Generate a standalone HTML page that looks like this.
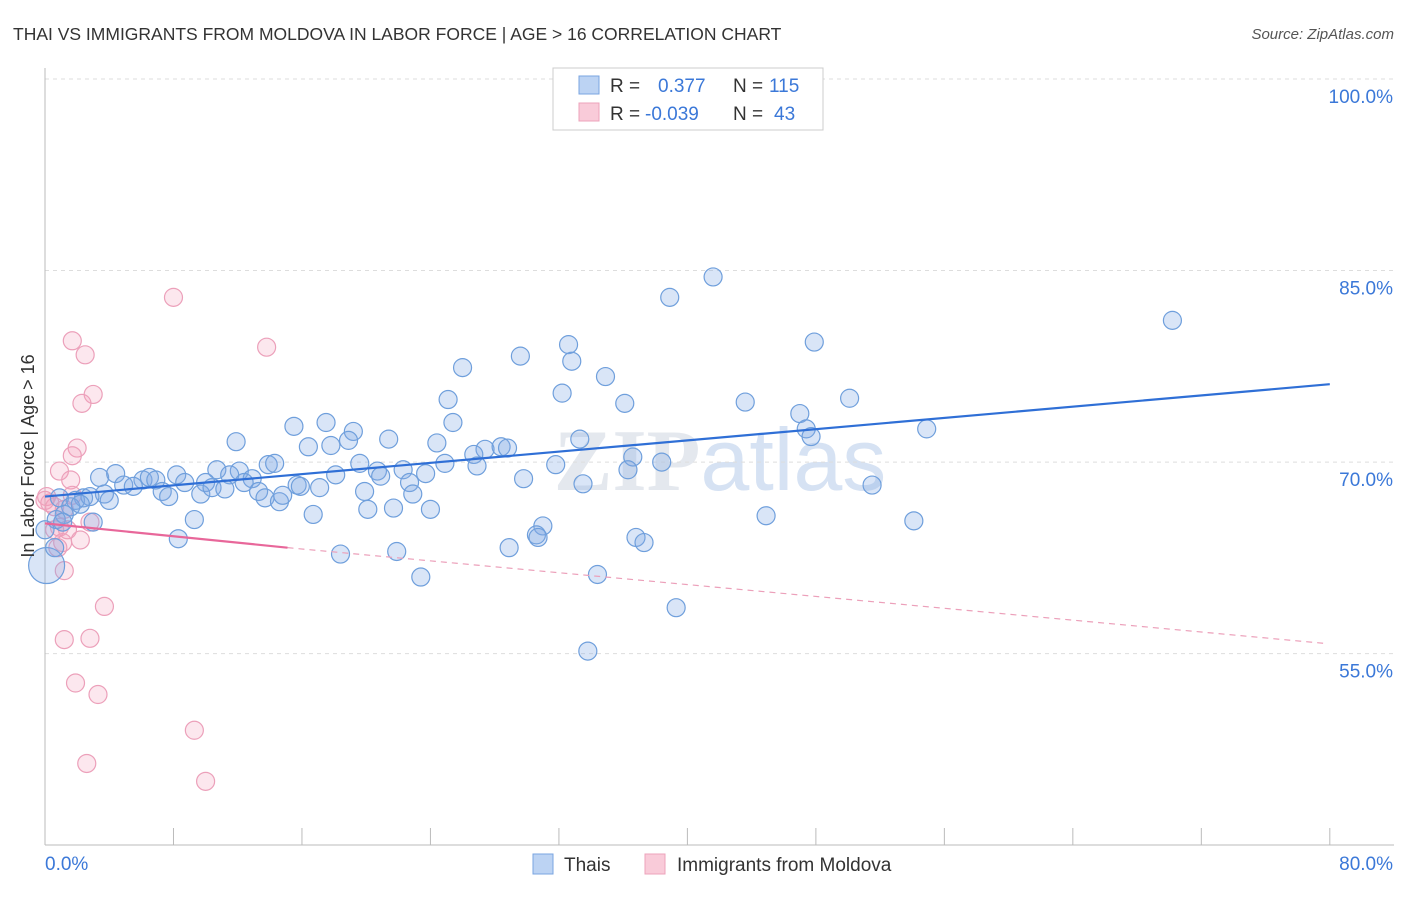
<!DOCTYPE html>
<html><head><meta charset="utf-8"><style>
body{margin:0;background:#fff;font-family:"Liberation Sans",sans-serif;}
</style></head><body>
<svg id="chart" width="1406" height="892" viewBox="0 0 1406 892" xmlns="http://www.w3.org/2000/svg" font-family="Liberation Sans, sans-serif">
<text x="13" y="40" font-size="17.5" fill="#333">THAI VS IMMIGRANTS FROM MOLDOVA IN LABOR FORCE | AGE &gt; 16 CORRELATION CHART</text>
<text x="1394" y="39" font-size="15" fill="#555" text-anchor="end" font-style="italic">Source: ZipAtlas.com</text>
<text x="720" y="490" font-size="88" fill="#e4e8ee" text-anchor="middle" font-family="Liberation Serif, serif" font-weight="bold">ZIP<tspan fill="#d6e2f3" font-family="Liberation Sans, sans-serif" font-weight="normal">atlas</tspan></text>
<g id="grid"></g><g id="axes"></g><g id="pts"></g><g id="trends"></g>
<text transform="translate(34,456) rotate(-90)" font-size="18" fill="#333" text-anchor="middle">In Labor Force | Age &gt; 16</text>
<g>
<rect x="553" y="68" width="270" height="62" fill="#fff" stroke="#ccc"/>
<rect x="579" y="76" width="20" height="18" fill="#bcd3f3" stroke="#7aa5e0"/>
<rect x="579" y="103" width="20" height="18" fill="#f9cbd9" stroke="#eda3bb"/>
<text x="610" y="92" font-size="19" fill="#333">R =</text>
<text x="658" y="92" font-size="19" fill="#3b78d8">0.377</text>
<text x="733" y="92" font-size="19" fill="#333">N =</text>
<text x="769" y="92" font-size="19" fill="#3b78d8">115</text>
<text x="610" y="120" font-size="19" fill="#333">R =</text>
<text x="645" y="120" font-size="19" fill="#3b78d8">-0.039</text>
<text x="733" y="120" font-size="19" fill="#333">N =</text>
<text x="774" y="120" font-size="19" fill="#3b78d8">43</text>
</g>
<g>
<rect x="533" y="854" width="20" height="20" fill="#bcd3f3" stroke="#7aa5e0"/>
<text x="564" y="871" font-size="19" fill="#333">Thais</text>
<rect x="645" y="854" width="20" height="20" fill="#f9cbd9" stroke="#eda3bb"/>
<text x="677" y="871" font-size="19" fill="#333">Immigrants from Moldova</text>
</g>
</svg>
<script>
const blueX=[41.6,38.9,70.2,47.9,32.6,29.6,32.8,26.0,34.9,32.2,25.1,36.1,43.6,50.1,47.0,15.5,17.5,25.4,19.2,47.4,47.7,54.9,11.9,21.4,18.9,24.4,16.4,17.8,33.3,27.4,26.7,28.4,28.8,38.4,36.6,31.8,24.9,26.9,19.6,10.7,12.1,13.9,14.3,22.3,20.7,20.9,23.7,18.1,36.3,29.8,51.5,3.4,4.4,6.1,6.5,6.9,8.2,8.7,10.0,11.5,12.9,4.9,5.5,7.3,7.7,9.7,10.4,11.2,12.4,13.3,13.7,14.6,14.8,15.7,15.9,17.1,19.9,22.7,22.9,3.7,4.0,1.9,2.4,2.8,0.9,1.6,2.2,3.0,1.2,0.7,9.3,16.7,20.1,21.7,24.0,44.9,54.1,31.0,30.6,30.7,36.8,37.3,28.9,21.9,18.4,8.3,23.4,34.4,39.3,33.8,33.5,0.1,0.6,0.0,1.1];
const blueY=[84.5,82.9,81.1,79.4,79.2,78.3,77.9,77.4,76.7,75.4,74.9,74.6,74.7,75.0,73.8,72.8,73.1,73.1,72.4,72.6,72.0,72.6,71.6,71.8,71.7,71.5,71.2,71.3,71.8,71.0,70.6,71.2,71.1,70.0,70.4,69.8,69.9,69.7,69.9,69.4,69.3,69.8,69.9,69.4,69.3,68.9,69.1,69.0,69.4,68.7,68.2,68.8,69.1,68.6,68.8,68.6,69.0,68.4,68.4,69.0,68.7,68.2,68.1,67.7,67.3,67.5,68.0,67.9,68.4,67.7,67.2,66.9,67.4,68.2,68.1,68.0,67.7,68.4,67.5,67.5,67.0,67.0,67.2,67.3,67.2,66.5,66.7,65.3,65.9,65.5,65.5,65.9,66.3,66.4,66.3,65.8,65.4,65.0,64.3,64.1,64.1,63.7,63.3,63.0,62.8,64.0,61.0,61.2,58.6,55.2,68.3,61.9,63.3,64.7,65.3];
const pinkX=[8.0,1.7,2.5,13.8,3.0,2.3,2.0,1.7,0.9,1.6,0.1,0.3,0.6,1.2,1.7,2.8,0.9,1.4,2.2,1.1,0.8,1.2,3.7,1.2,2.8,1.9,3.3,9.3,2.6,10.0,0.0,0.6];
const pinkY=[82.9,79.5,78.4,79.0,75.3,74.6,71.1,70.5,69.3,68.6,67.3,66.8,66.5,66.3,67.4,65.3,64.9,64.7,63.9,63.7,63.3,61.5,58.7,56.1,56.2,52.7,51.8,49.0,46.4,45.0,67.0,64.7];
const yTicks=[100,85,70,55];
const yTickLabels=["100.0%","85.0%","70.0%","55.0%"];
const xTicks=[0,8,16,24,32,40,48,56,64,72,80];
const blueTrend=[[0,67.3],[80,76.1]];
const pinkSolid=[[0,65.2],[15.1,63.3]];
const pinkDash=[[15.1,63.3],[79.7,55.8]];
const sx=v=>45+v*16.06, sy=v=>79+(100-v)*12.77;
const NS="http://www.w3.org/2000/svg";
function mk(p,t,a){const e=document.createElementNS(NS,t);for(const k in a)e.setAttribute(k,a[k]);p.appendChild(e);return e;}
const grid=document.getElementById('grid'),axes=document.getElementById('axes'),pts=document.getElementById('pts'),tr=document.getElementById('trends');
yTicks.forEach((v,i)=>{
 const l=mk(grid,'line',{x1:45,x2:1394,y1:sy(v),y2:sy(v),stroke:'#ddd','stroke-dasharray':'4,4'});
 
 
 const t=mk(axes,'text',{x:1393,y:sy(v)+24,'font-size':19,fill:'#3b78d8','text-anchor':'end'});t.textContent=yTickLabels[i];
 
 
});
const xa=mk(axes,'line',{x1:45,x2:1394,y1:845,y2:845,stroke:'#bbb'});


const ya=mk(axes,'line',{x1:45,x2:45,y1:68,y2:845,stroke:'#bbb'});


xTicks.forEach(v=>{const t=mk(axes,'line',{x1:sx(v),x2:sx(v),y1:828,y2:845,stroke:'#bbb'});
 
 });
const x0=mk(axes,'text',{x:45,y:870,'font-size':19,fill:'#3b78d8'});x0.textContent='0.0%';


const x1=mk(axes,'text',{x:1393,y:870,'font-size':19,fill:'#3b78d8','text-anchor':'end'});x1.textContent='80.0%';


pinkX.forEach((x,i)=>{const c=mk(pts,'circle',{cx:sx(x),cy:sy(pinkY[i]),r:9,fill:'rgba(244,160,188,0.25)',stroke:'#eca0ba','stroke-width':1.2});
 
 });
blueX.forEach((x,i)=>{const r=(i==blueX.length-4)?18:9;const c=mk(pts,'circle',{cx:sx(x),cy:sy(blueY[i]),r:r,fill:'rgba(130,170,230,0.3)',stroke:'#6f9fdc','stroke-width':1.2});
 
 });
const bl=mk(tr,'line',{x1:sx(blueTrend[0][0]),y1:sy(blueTrend[0][1]),x2:sx(blueTrend[1][0]),y2:sy(blueTrend[1][1]),stroke:'#2f6fd6','stroke-width':2.2});


const ps=mk(tr,'line',{x1:sx(pinkSolid[0][0]),y1:sy(pinkSolid[0][1]),x2:sx(pinkSolid[1][0]),y2:sy(pinkSolid[1][1]),stroke:'#e8679a','stroke-width':2.2});


const pd=mk(tr,'line',{x1:sx(pinkDash[0][0]),y1:sy(pinkDash[0][1]),x2:sx(pinkDash[1][0]),y2:sy(pinkDash[1][1]),stroke:'#eca0ba','stroke-width':1.2,'stroke-dasharray':'6,5'});


</script>
</body></html>
